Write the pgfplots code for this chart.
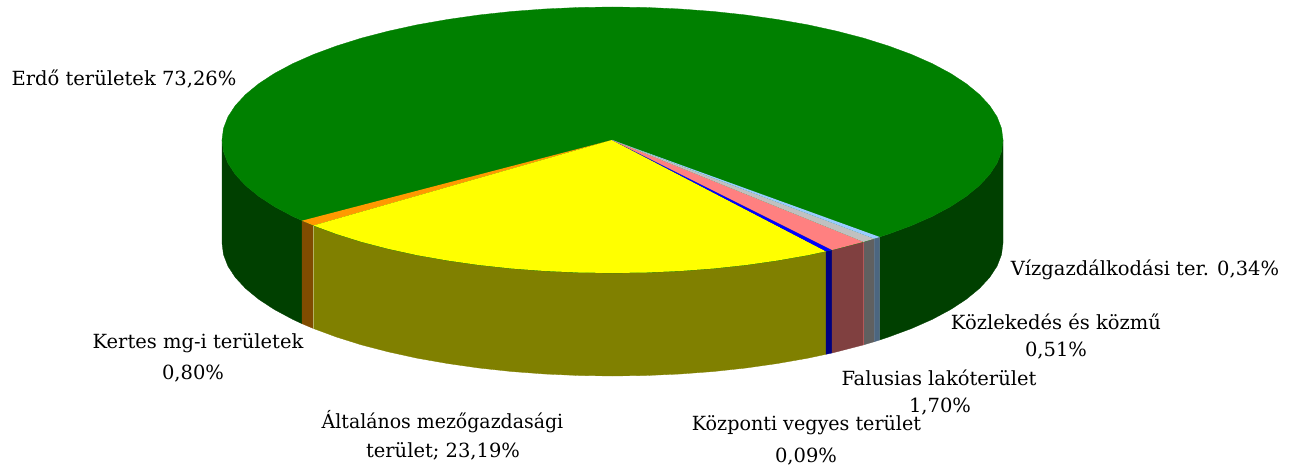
\documentclass[border=0pt]{standalone}
\usepackage{fontspec}
\setmainfont{DejaVu Serif}
\usepackage{graphicx}
\usepackage{pgfplots}
\pgfplotsset{compat=1.18}
\definecolor{gtop}{HTML}{008000}
\definecolor{gside}{HTML}{004000}
\definecolor{otop}{HTML}{FF9900}
\definecolor{oside}{HTML}{804C00}
\definecolor{ytop}{HTML}{FFFF00}
\definecolor{yside}{HTML}{808000}
\definecolor{btop}{HTML}{0000FF}
\definecolor{bside}{HTML}{000080}
\definecolor{ptop}{HTML}{FF8080}
\definecolor{pside}{HTML}{804040}
\definecolor{stop}{HTML}{C0C0C0}
\definecolor{sside}{HTML}{606060}
\definecolor{ltop}{HTML}{99CCFF}
\definecolor{lside}{HTML}{4C6680}
\tikzset{lab/.style={font=\fontsize{19.5}{22}\selectfont,text=black,inner sep=0pt}}
\begin{document}
\begin{tikzpicture}
\useasboundingbox (0,0) rectangle (1293pt,465pt);
\begin{axis}[at={(0,0)},anchor=south west,width=1293pt,height=465pt,scale only axis,hide axis,
  xmin=0,xmax=1293,ymin=0,ymax=465,y dir=reverse,clip=false]
% side faces
\addplot[fill=gside,draw=gside,line width=0.3pt] coordinates {(1003,140)(1001.5,151.6)(997.1,163.1)(989.7,174.4)(979.4,185.5)(966.4,196.2)(950.7,206.5)(932.4,216.3)(911.6,225.5)(888.6,234)(879.7,237)(879.7,340)(888.6,337)(911.6,328.5)(932.4,319.3)(950.7,309.5)(966.4,299.2)(979.4,288.5)(989.7,277.4)(997.1,266.1)(1001.5,254.6)(1003,243)} --cycle;
\addplot[fill=gside,draw=gside,line width=0.3pt] coordinates {(222,140)(223.5,151.6)(227.9,163.1)(235.3,174.4)(245.6,185.5)(258.6,196.2)(274.3,206.5)(292.6,216.3)(302,220.7)(302,323.7)(292.6,319.3)(274.3,309.5)(258.6,299.2)(245.6,288.5)(235.3,277.4)(227.9,266.1)(223.5,254.6)(222,243)} --cycle;
\addplot[fill=oside,draw=oside,line width=0.3pt] coordinates {(302,220.7)(313.4,225.5)(313.4,328.5)(302,323.7)} --cycle;
\addplot[fill=yside,draw=yside,line width=0.3pt] coordinates {(313.4,225.5)(336.4,234)(361.5,241.9)(388.5,248.9)(417.2,255.2)(447.5,260.5)(478.9,265)(511.4,268.5)(544.7,271)(578.5,272.5)(612.5,273)(646.5,272.5)(680.3,271)(713.6,268.5)(746.1,265)(777.5,260.5)(807.8,255.2)(826,251.3)(826,354.3)(807.8,358.2)(777.5,363.5)(746.1,368)(713.6,371.5)(680.3,374)(646.5,375.5)(612.5,376)(578.5,375.5)(544.7,374)(511.4,371.5)(478.9,368)(447.5,363.5)(417.2,358.2)(388.5,351.9)(361.5,344.9)(336.4,337)(313.4,328.5)} --cycle;
\addplot[fill=bside,draw=bside,line width=0.3pt] coordinates {(826,251.3)(832,250)(832,353)(826,354.3)} --cycle;
\addplot[fill=pside,draw=pside,line width=0.3pt] coordinates {(832,250)(836.5,248.9)(863.5,241.9)(863.5,344.9)(836.5,351.9)(832,353)} --cycle;
\addplot[fill=sside,draw=sside,line width=0.3pt] coordinates {(863.5,241.9)(874.3,238.7)(874.3,341.7)(863.5,344.9)} --cycle;
\addplot[fill=lside,draw=lside,line width=0.3pt] coordinates {(874.3,238.7)(879.7,237)(879.7,340)(874.3,341.7)} --cycle;
\addplot[draw=ptop!40!pside,line width=0.5pt] coordinates {(863.5,241.9)(863.5,344.9)};
\addplot[draw=yside!60!white,line width=0.5pt] coordinates {(313.4,225.5)(313.4,328.5)};
% top face
\addplot[fill=gtop,draw=gtop,line width=0.3pt] coordinates {(1003,140)(1001.5,151.6)(997.1,163.1)(989.7,174.4)(979.4,185.5)(966.4,196.2)(950.7,206.5)(932.4,216.3)(911.6,225.5)(888.6,234)(863.5,241.9)(836.5,248.9)(807.8,255.2)(777.5,260.5)(746.1,265)(713.6,268.5)(680.3,271)(646.5,272.5)(612.5,273)(578.5,272.5)(544.7,271)(511.4,268.5)(478.9,265)(447.5,260.5)(417.2,255.2)(388.5,248.9)(361.5,241.9)(336.4,234)(313.4,225.5)(292.6,216.3)(274.3,206.5)(258.6,196.2)(245.6,185.5)(235.3,174.4)(227.9,163.1)(223.5,151.6)(222,140)(223.5,128.4)(227.9,116.9)(235.3,105.6)(245.6,94.5)(258.6,83.8)(274.3,73.5)(292.6,63.7)(313.4,54.5)(336.4,46)(361.5,38.1)(388.5,31.1)(417.2,24.8)(447.5,19.5)(478.9,15)(511.4,11.5)(544.7,9)(578.5,7.5)(612.5,7)(646.5,7.5)(680.3,9)(713.6,11.5)(746.1,15)(777.5,19.5)(807.8,24.8)(836.5,31.1)(863.5,38.1)(888.6,46)(911.6,54.5)(932.4,63.7)(950.7,73.5)(966.4,83.8)(979.4,94.5)(989.7,105.6)(997.1,116.9)(1001.5,128.4)} --cycle;
\addplot[fill=otop,draw=none] coordinates {(612,140)(302,220.7)(313.4,225.5)} --cycle;
\addplot[fill=ytop,draw=none] coordinates {(612,140)(313.4,225.5)(336.4,234)(361.5,241.9)(388.5,248.9)(417.2,255.2)(447.5,260.5)(478.9,265)(511.4,268.5)(544.7,271)(578.5,272.5)(612.5,273)(646.5,272.5)(680.3,271)(713.6,268.5)(746.1,265)(777.5,260.5)(807.8,255.2)(826,251.3)} --cycle;
\addplot[fill=btop,draw=none] coordinates {(612,140)(826,251.3)(832,250)} --cycle;
\addplot[fill=ptop,draw=none] coordinates {(612,140)(832,250)(836.5,248.9)(863.5,241.9)} --cycle;
\addplot[fill=stop,draw=none] coordinates {(612,140)(863.5,241.9)(874.3,238.7)} --cycle;
\addplot[fill=ltop,draw=none] coordinates {(612,140)(874.3,238.7)(879.7,237)} --cycle;
% labels
\node[lab] at (axis cs:124,79.5) {Erdő területek 73,26\%};
\node[lab] at (axis cs:1145,269.5) {Vízgazdálkodási ter. 0,34\%};
\node[lab] at (axis cs:1056,321.5) {Közlekedés és közmű};
\node[lab] at (axis cs:1056,350.5) {0,51\%};
\node[lab] at (axis cs:939,377.5) {Falusias lakóterület};
\node[lab] at (axis cs:940,407) {1,70\%};
\node[lab] at (axis cs:806.5,425.5) {\scalebox{0.98}[1]{Központi vegyes terület}};
\node[lab] at (axis cs:806,456.5) {0,09\%};
\node[lab] at (axis cs:198,343.5) {Kertes mg-i területek};
\node[lab] at (axis cs:193,374) {0,80\%};
\node[lab] at (axis cs:442.5,421.5) {\scalebox{0.97}[1]{Általános mezőgazdasági}};
\node[lab] at (axis cs:443,451.5) {terület; 23,19\%};
\end{axis}
\end{tikzpicture}
\end{document}
